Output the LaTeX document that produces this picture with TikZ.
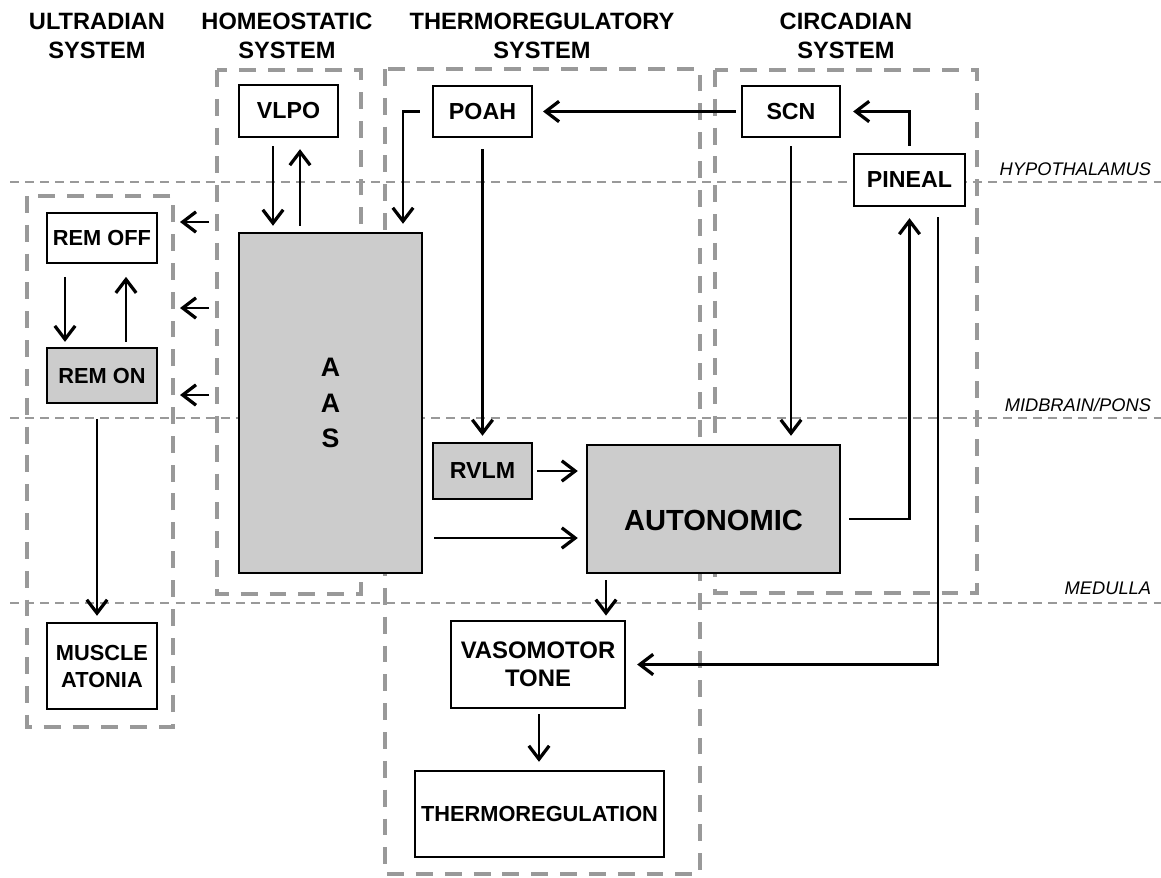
\documentclass[tikz,border=0pt]{standalone}
\usepackage{fontspec}
\setmainfont{Liberation Sans}
\usetikzlibrary{arrows.meta}
\newcommand{\pxu}{0.025cm}
\definecolor{dashgray}{gray}{0.6}
\definecolor{boxgray}{gray}{0.8}
\tikzset{
  blk/.style={draw, fill=white, line width=1.7pt, inner sep=0pt, align=center,
    font=\bfseries\fontsize{16.5}{19.5}\selectfont},
  shd/.style={blk, fill=boxgray},
  grp/.style={draw=dashgray, line width=3.5pt, dash pattern=on 12pt off 8.5pt},
  lvl/.style={draw=dashgray, line width=1.5pt, dash pattern=on 6.4pt off 4.3pt},
  arr/.style={line width=1.5pt, -{Straight Barb[length=9.5pt,width=14.5pt,line width=2.3pt]},
    shorten <=5pt, shorten >=5pt},
  hdr/.style={align=center, font=\bfseries\fontsize{16.8}{20.6}\selectfont},
  lvlname/.style={anchor=east, font=\itshape\fontsize{13}{15}\selectfont},
}

\begin{document}
\begin{tikzpicture}[x=\pxu, y=-\pxu]
\useasboundingbox (0,0) rectangle (1161,877);
% brain levels
\draw[lvl] (10,182) -- (1161,182);
\draw[lvl] (10,418) -- (1161,418);
\draw[lvl] (10,603) -- (1161,603);
\node[lvlname] (lhyp) at (1156,169) {HYPOTHALAMUS};
\node[lvlname] (lmid) at (1156,405) {MIDBRAIN/PONS};
\node[lvlname] (lmed) at (1156,588) {MEDULLA};
% the four systems
\draw[grp] (217,70) rectangle (361,594);
\draw[grp] (27,196) rectangle (173,727);
\draw[grp] (385,69) rectangle (700,874);
\draw[grp] (715,70) rectangle (977,593);
\node[hdr] (hult) at (97,35.5) {ULTRADIAN\\SYSTEM};
\node[hdr] (hhom) at (287,35.5) {HOMEOSTATIC\\SYSTEM};
\node[hdr] (hthe) at (542,35.5) {THERMOREGULATORY\\SYSTEM};
\node[hdr] (hcir) at (846,35.5) {CIRCADIAN\\SYSTEM};
% boxes
\node[blk, minimum width=99*\pxu, minimum height=52*\pxu] (vlpo) at (288.5,111) {VLPO};
\node[blk, minimum width=99*\pxu, minimum height=51*\pxu] (poah) at (482.5,111.5) {POAH};
\node[blk, minimum width=98*\pxu, minimum height=51*\pxu] (scn) at (791,111.5) {SCN};
\node[blk, minimum width=111*\pxu, minimum height=52*\pxu] (pineal) at (909.5,180) {PINEAL};
\node[blk, minimum width=110*\pxu, minimum height=50*\pxu,
  font=\bfseries\fontsize{15.5}{19}\selectfont] (remoff) at (102,238) {REM OFF};
\node[shd, minimum width=110*\pxu, minimum height=55*\pxu,
  font=\bfseries\fontsize{15.5}{19}\selectfont] (remon) at (102,375.5) {REM ON};
\node[blk, minimum width=110*\pxu, minimum height=86*\pxu,
  font=\bfseries\fontsize{15.5}{19.2}\selectfont] (atonia) at (102,666) {MUSCLE\\ATONIA};
\node[shd, minimum width=183*\pxu, minimum height=340*\pxu,
  font=\bfseries\fontsize{19}{25}\selectfont] (aas) at (330.5,403) {A\\A\\S};
\node[shd, minimum width=99*\pxu, minimum height=56*\pxu] (rvlm) at (482.5,471) {RVLM};
\node[shd, minimum width=253*\pxu, minimum height=128*\pxu,
  font=\bfseries\fontsize{20.7}{24}\selectfont] (auto) at (713.5,509)
  {\raisebox{-7.8pt}[\height][\depth]{AUTONOMIC}};
\node[blk, minimum width=174*\pxu, minimum height=87*\pxu,
  font=\bfseries\fontsize{17}{20}\selectfont] (vaso) at (538,664.5) {VASOMOTOR\\TONE};
\node[blk, minimum width=249*\pxu, minimum height=86*\pxu,
  font=\bfseries\fontsize{15.5}{19}\selectfont] (thermo) at (539.5,814) {THERMOREGULATION};
% connectors
\draw[arr, shorten <=5.7pt, shorten >=4.3pt] (vlpo.south -| 273,0) -- (aas.north -| 273,0);
\draw[arr, shorten <=4.3pt, shorten >=7.8pt] (aas.north -| 300,0) -- (vlpo.south -| 300,0);
\draw[arr, shorten <=9pt, shorten >=3.5pt] (remoff.south -| 65,0) -- (remon.north -| 65,0);
\draw[arr, shorten <=3.5pt, shorten >=9pt] (remon.north -| 126,0) -- (remoff.south -| 126,0);
\foreach \y [count=\i] in {222,308,395} {
  \coordinate (s\i) at (209,\y);
  \draw[arr, shorten <=0pt, shorten >=0pt] (s\i) -- ++(-29,0);
}
\draw[arr, shorten <=10.5pt, shorten >=4.3pt] (remon.south -| 97,0) -- (atonia.north -| 97,0);
\draw[arr, shorten <=8.5pt, shorten >=5.7pt] (poah.west) -| (aas.north -| 403,0);
\draw[arr, shorten <=3.5pt, shorten >=7pt] (scn.west) -- (poah.east);
\draw[arr, shorten <=5pt, shorten >=8.5pt] (pineal.north) |- (scn.east);
\draw[arr, shorten <=8pt, shorten >=4.3pt] (poah.south) -- (rvlm.north);
\draw[arr, shorten <=5.7pt, shorten >=5.7pt] (scn.south) -- (auto.north -| scn.south);
\draw[arr, shorten <=5.7pt, shorten >=7.8pt] (auto.east |- 0,519) -| (pineal.south);
\draw[arr, shorten <=7pt, shorten >=7.8pt] (pineal.south -| 938,0) |- (vaso.east);
\draw[arr, shorten <=3pt, shorten >=5.7pt] (rvlm.east) -- (auto.west |- rvlm.east);
\draw[arr, shorten <=8pt, shorten >=5.7pt] (aas.east |- 0,538) -- (auto.west |- 0,538);
\draw[arr, shorten <=4.3pt, shorten >=3pt] (auto.south -| 606,0) -- (vaso.north -| 606,0);
\draw[arr, shorten <=3.5pt, shorten >=5.7pt] (vaso.south -| 539,0) -- (thermo.north -| 539,0);
\end{tikzpicture}
\end{document}
